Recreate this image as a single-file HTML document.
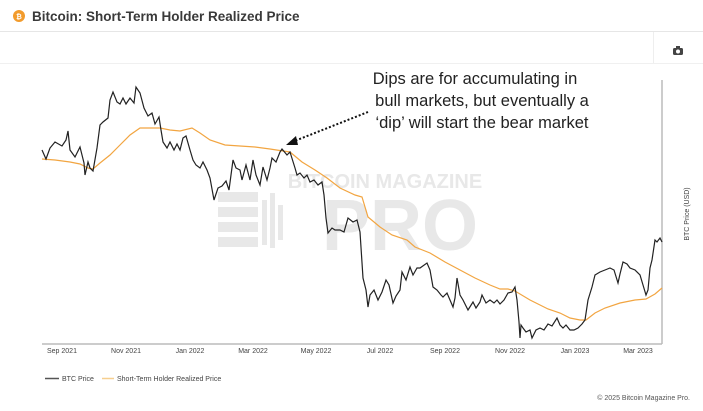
<!DOCTYPE html>
<html><head><style>
body{margin:0;width:703px;height:411px;background:#fff;overflow:hidden;font-family:"Liberation Sans",sans-serif}
</style></head><body>
<svg width="703" height="411" xmlns="http://www.w3.org/2000/svg" style="position:absolute;left:0;top:0">
<circle cx="19" cy="16" r="6" fill="#f29b2c"/>
<text x="19" y="19" font-size="7" fill="#fff" text-anchor="middle" font-weight="bold">₿</text>
<text x="32" y="21" font-size="13.5" font-weight="bold" fill="#3a3a3a">Bitcoin: Short-Term Holder Realized Price</text>
<line x1="0" y1="31.5" x2="703" y2="31.5" stroke="#e6e6e6"/>
<line x1="653.5" y1="32" x2="653.5" y2="63" stroke="#eee"/>
<line x1="0" y1="63.5" x2="703" y2="63.5" stroke="#f0f0f0"/>
<rect x="673" y="48" width="10" height="7" rx="1.5" fill="#444"/><rect x="676" y="46" width="4" height="3" fill="#444"/><circle cx="678" cy="51.5" r="2" fill="#fff"/>
<g fill="#e8e8e8" font-weight="bold">
<text x="385" y="188" font-size="20" text-anchor="middle">BITCOIN MAGAZINE</text>
<text x="400" y="250" font-size="72" text-anchor="middle">PRO</text>
<rect x="218" y="192" width="40" height="10"/><rect x="218" y="207" width="40" height="10"/><rect x="218" y="222" width="40" height="10"/><rect x="218" y="237" width="40" height="10"/>
<rect x="262" y="200" width="5" height="45"/><rect x="270" y="193" width="5" height="55"/><rect x="278" y="205" width="5" height="35"/>
</g>
<line x1="42" y1="344" x2="662" y2="344" stroke="#bbb" stroke-width="1.5"/>
<line x1="662" y1="80" x2="662" y2="344" stroke="#bbb" stroke-width="1.5"/>
<polyline fill="none" stroke="#f2a541" stroke-width="1.2" points="42,159 55,160 70,162 80,164 88,168 93,169 100,163 110,155 120,145 130,135 140,128 150,128 160,128 170,130 180,131 192,128 200,133 210,140 225,145 240,146 255,147 270,149 283,151 290,152 302,162 315,170 327,178 340,188 355,195 362,197 368,217 380,227 392,235 407,240 415,247 430,253 445,262 460,270 475,278 490,285 500,289 508,289 515,291 530,300 548,309 560,313 570,318 580,320 586,320 595,313 605,308 620,303 635,300 646,299 655,294 662,288"/>
<polyline fill="none" stroke="#222" stroke-width="1.2" points="42,150 46,159 50,148 55,142 62,146 66,140 68,131 70,150 75,157 80,147 82,155 84,163 85,175 88,162 90,168 93,171 97,148 100,125 103,122 108,118 110,100 113,92 117,102 120,104 123,98 126,104 130,98 134,103 136,87 140,93 144,108 148,116 152,113 155,124 159,117 161,130 163,142 167,148 170,142 174,150 177,144 180,150 183,138 186,136 190,150 193,160 196,165 200,168 203,162 207,170 210,178 214,200 218,188 222,186 226,181 229,190 233,160 236,168 240,170 242,180 246,165 250,180 253,160 256,175 260,185 263,167 267,180 270,168 272,158 276,162 280,152 282,149 287,155 290,152 295,168 297,175 300,173 304,178 307,175 310,182 314,180 318,185 322,182 324,195 326,218 328,233 332,228 335,230 340,230 344,232 348,218 353,222 357,220 360,232 363,278 366,290 368,307 370,295 374,290 378,300 382,292 386,280 389,285 393,303 396,296 400,290 402,272 406,280 410,267 413,275 417,268 420,268 427,263 430,270 433,287 437,290 441,295 443,297 447,293 453,307 455,298 457,278 460,295 463,300 468,310 473,302 476,308 480,302 482,295 486,303 490,300 494,303 497,300 500,304 504,300 508,293 512,292 515,287 517,300 519,322 520,338 521,325 523,328 526,332 530,330 532,338 536,330 540,328 544,330 548,324 552,326 557,318 560,325 563,328 566,325 570,330 574,330 578,328 582,324 585,320 588,300 592,287 595,275 600,272 605,270 610,268 614,270 618,283 620,274 623,262 627,264 630,268 635,270 640,275 643,285 646,295 648,290 650,268 652,260 655,240 657,242 660,238 662,242"/>
<line x1="368" y1="112" x2="292" y2="142" stroke="#111" stroke-width="2" stroke-dasharray="2,2"/>
<polygon points="286,145 296,136 298,145" fill="#111"/>
<g font-size="16.5" fill="#222" text-anchor="middle">
<text x="475" y="84">Dips are for accumulating in</text>
<text x="482" y="106">bull markets, but eventually a</text>
<text x="482" y="128">‘dip’ will start the bear market</text>
</g>
<text transform="translate(689,214) rotate(-90)" font-size="7" fill="#444" text-anchor="middle">BTC Price (USD)</text>
<g font-size="7" fill="#444" text-anchor="middle">
<text x="62" y="353">Sep 2021</text><text x="126" y="353">Nov 2021</text><text x="190" y="353">Jan 2022</text><text x="253" y="353">Mar 2022</text><text x="316" y="353">May 2022</text><text x="380" y="353">Jul 2022</text><text x="445" y="353">Sep 2022</text><text x="510" y="353">Nov 2022</text><text x="575" y="353">Jan 2023</text><text x="638" y="353">Mar 2023</text>
</g>
<line x1="45" y1="378.5" x2="59" y2="378.5" stroke="#555" stroke-width="1.5"/>
<text x="62" y="381" font-size="7" fill="#444">BTC Price</text>
<line x1="102" y1="378.5" x2="114" y2="378.5" stroke="#f6cf8f" stroke-width="1.5"/>
<text x="117" y="381" font-size="7" fill="#444">Short-Term Holder Realized Price</text>
<text x="690" y="400" font-size="7" fill="#555" text-anchor="end">© 2025 Bitcoin Magazine Pro.</text>
</svg>
</body></html>
